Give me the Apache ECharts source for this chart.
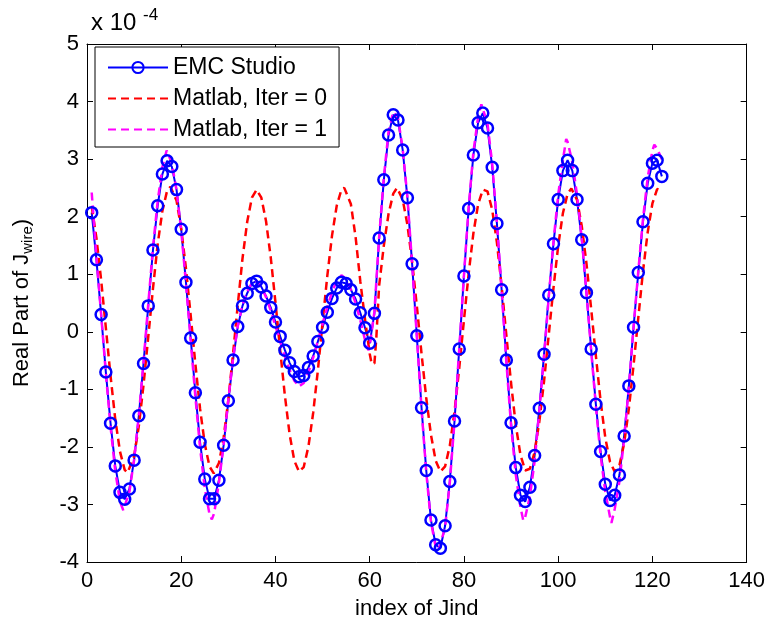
<!DOCTYPE html>
<html>
<head>
<meta charset="utf-8">
<script src="https://cdn.jsdelivr.net/npm/echarts@6/dist/echarts.min.js"></script>
<style>
html,body{margin:0;padding:0;background:#fff;}
#chart{width:768px;height:628px;}
</style>
</head>
<body>
<div id="chart"></div>
<script>
// values in units of 1e-4
const seriesNames = ['EMC Studio', 'Matlab, Iter = 0', 'Matlab, Iter = 1'];
const xTicks = [0, 20, 40, 60, 80, 100, 120, 140];
const yTicks = [-4, -3, -2, -1, 0, 1, 2, 3, 4, 5];

// EMC Studio, index 1..122
const emcValues = [
  2.07, 1.25, 0.30, -0.70, -1.59, -2.33, -2.79, -2.91, -2.73, -2.23,
  -1.46, -0.55, 0.45, 1.42, 2.19, 2.74, 2.97, 2.87, 2.47, 1.78,
  0.86, -0.11, -1.06, -1.92, -2.56, -2.90, -2.90, -2.58, -1.97, -1.20,
  -0.49, 0.09, 0.45, 0.67, 0.84, 0.88, 0.78, 0.62, 0.42, 0.17,
  -0.08, -0.32, -0.54, -0.69, -0.78, -0.76, -0.62, -0.42, -0.17, 0.08,
  0.34, 0.58, 0.76, 0.86, 0.84, 0.73, 0.57, 0.33, 0.07, -0.20,
  0.32, 1.63, 2.64, 3.42, 3.77, 3.68, 3.16, 2.33, 1.18, -0.07,
  -1.32, -2.41, -3.27, -3.70, -3.76, -3.37, -2.60, -1.55, -0.30, 0.97,
  2.14, 3.07, 3.63, 3.80, 3.54, 2.86, 1.88, 0.73, -0.49, -1.58,
  -2.36, -2.84, -2.95, -2.70, -2.15, -1.33, -0.39, 0.64, 1.53, 2.30,
  2.80, 2.98, 2.80, 2.30, 1.60, 0.68, -0.30, -1.26, -2.08, -2.65,
  -2.93, -2.84, -2.49, -1.81, -0.94, 0.08, 1.03, 1.91, 2.58, 2.93,
  2.98, 2.70
];

// Matlab, Iter = 0  [index, value]
const matlabIter0 = [
  [1,2.18],[2,1.63],[3,0.90],[4,0.07],[5,-0.77],[6,-1.52],[7,-2.08],[8,-2.40],[8.6,-2.45],[9,-2.43],
  [10,-2.16],[11,-1.64],[12,-0.92],[13,-0.09],[14,0.75],[15,1.52],[16,2.10],[17,2.45],[17.7,2.52],[18,2.51],
  [19,2.28],[20,1.79],[21,1.10],[22,0.29],[23,-0.56],[24,-1.34],[25,-1.95],[26,-2.34],[26.9,-2.46],[27,-2.46],
  [28,-2.28],[29,-1.84],[30,-1.18],[31,-0.38],[32,0.47],[33,1.27],[34,1.91],[35,2.33],[36,2.47],[37,2.33],
  [38,1.92],[39,1.29],[40,0.51],[41,-0.32],[42,-1.11],[43,-1.78],[44,-2.24],[45,-2.43],[45.2,-2.44],[46,-2.35],
  [47,-1.99],[48,-1.41],[49,-0.67],[50,0.16],[51,0.97],[52,1.67],[53,2.19],[54,2.47],[54.6,2.50],[55,2.48],
  [56,2.22],[57,1.65],[58,0.88],[59,0.22],[60,-0.38],[60.4,-0.55],[61,-0.55],[61.4,-0.11],[62,0.80],[63,1.50],
  [64,2.05],[65,2.40],[65.8,2.50],[66,2.50],[67,2.30],[68,1.86],[69,1.22],[70,0.45],[71,-0.38],[72,-1.15],
  [73,-1.79],[74,-2.24],[75,-2.43],[76,-2.34],[77,-1.98],[78,-1.39],[79,-0.63],[80,0.20],[81,1.01],[82,1.71],
  [83,2.21],[84,2.47],[84.4,2.49],[85,2.44],[86,2.12],[87,1.55],[88,0.79],[89,-0.06],[90,-0.89],[91,-1.62],
  [92,-2.14],[93,-2.41],[93.4,-2.43],[94,-2.38],[95,-2.09],[96,-1.56],[97,-0.86],[98,-0.05],[99,0.76],[100,1.49],
  [101,2.06],[102,2.40],[102.8,2.49],[103,2.49],[104,2.29],[105,1.84],[106,1.19],[107,0.40],[108,-0.42],[109,-1.20],
  [110,-1.84],[111,-2.26],[112,-2.43],[113,-2.32],[114,-1.94],[115,-1.34],[116,-0.58],[117,0.24],[118,1.05],[119,1.73],
  [120,2.23],[121,2.48],[122,2.45]
];

// Matlab, Iter = 1  [index, value]
const matlabIter1 = [
  [1,2.42],[2,1.30],[3,0.30],[4,-0.72],[5,-1.65],[6,-2.42],[7,-2.95],[7.7,-3.10],[8,-3.08],[9,-2.78],
  [10,-2.22],[11,-1.45],[12,-0.52],[13,0.48],[14,1.46],[15,2.27],[16,2.86],[16.9,3.15],[17,3.14],[18,2.93],
  [19,2.46],[20,1.76],[21,0.84],[22,-0.14],[23,-1.13],[24,-2.02],[25,-2.72],[26,-3.17],[26.5,-3.26],[27,-3.15],
  [28,-2.62],[29,-1.96],[30,-1.18],[31,-0.46],[32,0.10],[33,0.47],[34,0.70],[35,0.85],[36,0.88],[37,0.78],
  [38,0.60],[39,0.37],[40,0.10],[41,-0.17],[42,-0.43],[43,-0.66],[44,-0.85],[45,-0.95],[46,-0.89],[47,-0.70],
  [48,-0.45],[49,-0.16],[50,0.14],[51,0.43],[52,0.69],[53,0.88],[54,0.98],[55,0.92],[56,0.74],[57,0.50],
  [58,0.20],[59,-0.14],[59.7,-0.32],[60,-0.26],[61,0.35],[62,1.64],[63,2.68],[64,3.48],[65,3.82],[65.4,3.85],
  [66,3.72],[67,3.18],[68,2.34],[69,1.18],[70,-0.08],[71,-1.34],[72,-2.44],[73,-3.30],[74,-3.74],[74.6,-3.80],
  [75,-3.78],[76,-3.40],[77,-2.62],[78,-1.56],[79,-0.30],[80,0.98],[81,2.16],[82,3.12],[83,3.73],[83.7,3.95],
  [84,3.92],[85,3.62],[86,2.92],[87,1.90],[88,0.72],[89,-0.52],[90,-1.63],[91,-2.48],[92,-3.05],[92.6,-3.28],
  [93,-3.22],[94,-2.86],[95,-2.25],[96,-1.38],[97,-0.42],[98,0.60],[99,1.56],[100,2.38],[101,2.98],[101.7,3.35],
  [102,3.30],[103,2.95],[104,2.38],[105,1.63],[106,0.68],[107,-0.32],[108,-1.30],[109,-2.15],[110,-2.78],[111,-3.22],
  [111.3,-3.32],[112,-3.08],[113,-2.60],[114,-1.86],[115,-0.96],[116,0.08],[117,1.05],[118,1.96],[119,2.68],[120,3.15],
  [120.4,3.25],[121,3.18],[122,3.00]
];

const emcData = emcValues.map((v, i) => [i + 1, v]);

const FONT = 'Liberation Sans';
const axisLineStyle = { color: '#000', width: 1 };
const tickStyle = { show: true, inside: true, length: 6, lineStyle: { color: '#000', width: 1 } };
const hiddenSymbol = { color: 'rgba(0,0,0,0)', borderWidth: 0, opacity: 0 };

const chart = echarts.init(document.getElementById('chart'), null, { renderer: 'canvas' });
chart.setOption({
  animation: false,
  backgroundColor: '#fff',
  textStyle: { fontFamily: FONT, color: '#000' },
  grid: { left: 87, right: 20, top: 44, bottom: 66, containLabel: false },
  title: {
    text: 'x 10 {sup|-4}',
    left: 86, top: 2,
    textStyle: {
      fontFamily: FONT, fontSize: 24, fontWeight: 'normal', color: '#000',
      rich: { sup: { fontFamily: FONT, fontSize: 17, color: '#000', padding: [0, 0, 16, 0] } }
    }
  },
  legend: {
    orient: 'vertical', left: 95, top: 47,
    padding: [9, 12, 6, 12], itemGap: 8, itemWidth: 60, itemHeight: 14,
    borderColor: '#000', borderWidth: 1, backgroundColor: '#fff',
    textStyle: { fontFamily: FONT, fontSize: 23, color: '#000' },
    data: [
      { name: seriesNames[0] },
      { name: seriesNames[1], itemStyle: hiddenSymbol },
      { name: seriesNames[2], itemStyle: hiddenSymbol }
    ]
  },
  xAxis: [
    {
      type: 'value', min: xTicks[0], max: xTicks[xTicks.length - 1], interval: 20,
      position: 'bottom',
      axisLine: { show: true, onZero: false, lineStyle: axisLineStyle },
      axisTick: tickStyle,
      axisLabel: { fontFamily: FONT, fontSize: 22, color: '#000', margin: 8, showMinLabel: true, showMaxLabel: true },
      splitLine: { show: false },
      name: 'index of Jind', nameLocation: 'middle', nameGap: 36,
      nameTextStyle: { fontFamily: FONT, fontSize: 22, color: '#000' }
    },
    {
      type: 'value', min: xTicks[0], max: xTicks[xTicks.length - 1], interval: 20,
      position: 'top',
      axisLine: { show: true, onZero: false, lineStyle: axisLineStyle },
      axisTick: tickStyle,
      axisLabel: { show: false },
      splitLine: { show: false }
    }
  ],
  yAxis: [
    {
      type: 'value', min: yTicks[0], max: yTicks[yTicks.length - 1], interval: 1,
      position: 'left',
      axisLine: { show: true, onZero: false, lineStyle: axisLineStyle },
      axisTick: tickStyle,
      axisLabel: { fontFamily: FONT, fontSize: 22, color: '#000', margin: 8, showMinLabel: true, showMaxLabel: true },
      splitLine: { show: false },
      name: 'Real Part of J{sub|wire})', nameLocation: 'middle', nameGap: 52, nameRotate: 90,
      nameTextStyle: {
        fontFamily: FONT, fontSize: 22, color: '#000',
        rich: { sub: { fontFamily: FONT, fontSize: 15, color: '#000', padding: [12, 0, 0, 0] } }
      }
    },
    {
      type: 'value', min: yTicks[0], max: yTicks[yTicks.length - 1], interval: 1,
      position: 'right',
      axisLine: { show: true, onZero: false, lineStyle: axisLineStyle },
      axisTick: tickStyle,
      axisLabel: { show: false },
      splitLine: { show: false }
    }
  ],
  series: [
    {
      name: seriesNames[0], type: 'line', data: emcData,
      symbol: 'circle', symbolSize: 11,
      lineStyle: { color: '#0000ff', width: 2 },
      itemStyle: { color: 'rgba(255,255,255,0)', borderColor: '#0000ff', borderWidth: 2.5 },
      emphasis: { disabled: true }
    },
    {
      name: seriesNames[1], type: 'line', data: matlabIter0,
      symbol: 'none',
      lineStyle: { color: '#ff0000', width: 2.5, type: [8, 5] },
      itemStyle: { color: '#ff0000' },
      emphasis: { disabled: true }
    },
    {
      name: seriesNames[2], type: 'line', data: matlabIter1,
      symbol: 'none',
      lineStyle: { color: '#ff00ff', width: 2.5, type: [8, 5] },
      itemStyle: { color: '#ff00ff' },
      emphasis: { disabled: true }
    }
  ]
});
</script>
</body>
</html>
